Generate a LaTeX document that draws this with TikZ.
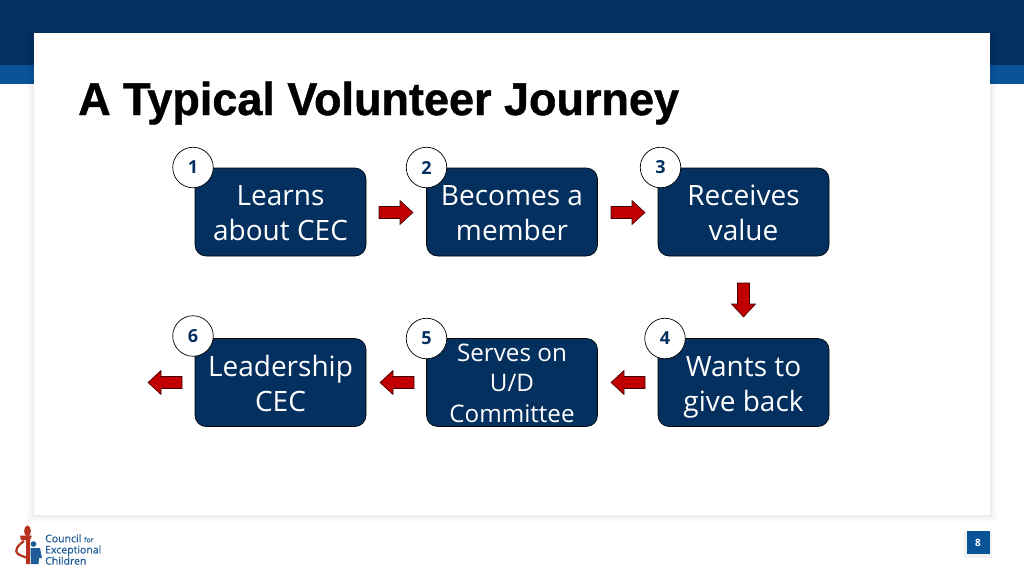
\documentclass[tikz,border=0pt]{standalone}
\usepackage{fontspec}
\setmainfont{Open Sans}
\newfontfamily\titlefont[FakeStretch=0.978,FakeBold=0.9]{Liberation Sans}
\newfontfamily\logofont[FakeBold=0.5]{Open Sans}
\definecolor{navy}{HTML}{03305F}
\definecolor{midblue}{HTML}{0A5399}
\definecolor{arrowred}{HTML}{C00000}
\definecolor{logored}{HTML}{B5301F}
\definecolor{logoblue}{HTML}{1F5C99}
\newcommand\evenline{\vphantom{Lg}}
\newcommand\topline{\rule{0pt}{29pt}}
\tikzset{
  stepbox/.style={draw=black,line width=0.6pt,fill=navy,rounded corners=11pt,minimum width=171pt,minimum height=88pt,inner sep=0pt,align=center,text=white,font=\fontsize{28}{35.2}\selectfont},
  smalltext/.style={inner sep=0pt,align=center,text=white,font=\fontsize{24.2}{30.5}\selectfont},
  badge/.style={circle,draw=black,line width=0.7pt,fill=white,minimum size=40.5pt,inner sep=0pt,text=navy,font=\bfseries\fontsize{18}{18}\selectfont},
  blockarrow/.style={draw=black!65!arrowred,line width=0.6pt,fill=arrowred,line join=miter},
}
% centre x, centre y, rotation
\newcommand\blockarrowat[3]{%
  \draw[blockarrow,shift={(#1,#2)},rotate=#3]
    (-17,-6) -- (4,-6) -- (4,-12) -- (17,0) -- (4,12) -- (4,6) -- (-17,6) -- cycle;}
\begin{document}
\begin{tikzpicture}[x=1pt,y=-1pt]
\useasboundingbox (0,0) rectangle (1024,576);
\fill[white] (0,0) rectangle (1024,576);
\fill[navy] (0,0) rectangle (1024,65);
\fill[midblue] (0,65) rectangle (1024,84);
\foreach \d/\o in {7/0.012,5/0.015,3/0.02,1.5/0.025}{
  \fill[black,opacity=\o] (34-\d,33) rectangle (990+\d,515+\d);
}
\fill[white] (34,33) rectangle (990,515);

\node[anchor=base west,inner sep=0pt,font=\titlefont\bfseries\fontsize{46}{46}\selectfont,text=black] (title) at (78,115) {A Typical Volunteer Journey};

\node[stepbox] (s1) at (280.5,212) {\topline Learns\\\evenline about CEC};
\node[stepbox] (s2) at (512,212) {\topline Becomes a\\\evenline member};
\node[stepbox] (s3) at (743.5,212) {\topline Receives\\\evenline value};
\node[stepbox] (s4) at (743.5,382.5) {\topline Wants to\\\evenline give back};
\node[stepbox] (s5) at (512,382.5) {};
\node[smalltext] (s5text) at (512,386) {\evenline Serves on\\\evenline U/D\\\evenline Committee};
\node[stepbox] (s6) at (280.5,382.5) {\topline Leadership\\\evenline CEC};

\node[badge] (b1) at (193,167.5) {1};
\node[badge] (b2) at (426.5,167.5) {2};
\node[badge] (b3) at (660.5,167.5) {3};
\node[badge] (b4) at (665,338.5) {4};
\node[badge] (b5) at (426.5,338.5) {5};
\node[badge] (b6) at (193,336) {6};

\blockarrowat{396}{212.5}{0}
\blockarrowat{628}{212.5}{0}
\blockarrowat{743.5}{300}{-90}
\blockarrowat{628}{382.5}{180}
\blockarrowat{397}{382.5}{180}
\blockarrowat{165}{382.5}{180}

% page number
\fill[black,opacity=0.05] (964,532) rectangle (992,558);
\node[fill=midblue,minimum width=23pt,minimum height=23pt,inner sep=0pt,text=white,font=\bfseries\fontsize{10}{10}\selectfont] (page) at (978,542.5) {8};

% logo
\fill[logored] (27.5,531) ellipse (3.4pt and 5.5pt);
\fill[logored] (20,535.5) -- (32,535.5) -- (30,540) -- (30,564) -- (26,564) -- (26,540) -- (21,540) -- cycle;
\draw[logored,line width=2.2pt] (24,541) .. controls (17,546) and (14,551) .. (18,554) .. controls (21,556) and (26,557) .. (29,559);
\fill[logoblue] (33.5,544) circle (2.8pt);
\fill[logoblue] (30.5,548) -- (40,548) -- (42,558) -- (39,558) -- (38.5,564) -- (31,564) -- cycle;
\node[anchor=west,inner sep=0pt,align=left,text=logoblue,font=\logofont\fontsize{10.5}{11.2}\selectfont] (logo) at (45,549.5) {Council {\fontsize{7}{7}\selectfont for}\\Exceptional\\Children};
\end{tikzpicture}
\end{document}
